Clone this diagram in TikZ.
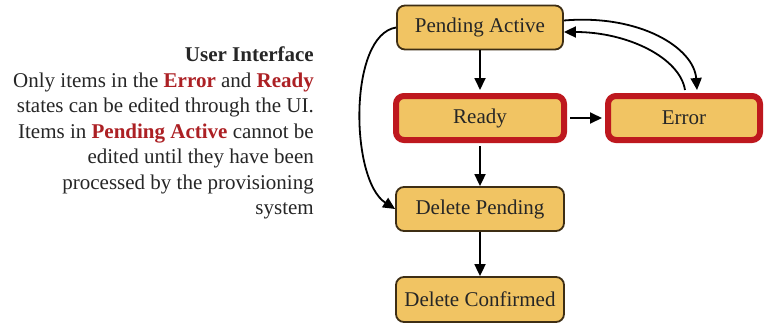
\documentclass[tikz,border=0pt]{standalone}
\usepackage{fontspec}
\setmainfont{Liberation Serif}
\usetikzlibrary{arrows.meta}
\definecolor{statefill}{RGB}{241,196,99}
\definecolor{stateline}{RGB}{62,46,20}
\definecolor{editred}{RGB}{190,24,30}
\definecolor{notered}{RGB}{172,32,36}
\tikzset{
  state/.style={draw=stateline, line width=1.8pt, fill=statefill,
    rounded corners=8pt, inner sep=0pt,
    font=\fontsize{21}{25}\selectfont, text=black!85},
  editable/.style={state, draw=editred, line width=6pt},
  arr/.style={line width=1.8pt, -{Triangle[length=12pt,width=11pt]}},
  note/.style={align=right, inner sep=0pt, text=black!85,
    font=\fontsize{21}{25.5}\selectfont},
}
\begin{document}
\begin{tikzpicture}[x=1pt,y=-1pt]
\useasboundingbox (0,0) rectangle (767,324);

% states
\node[state, minimum width=166pt, minimum height=44pt] (pa) at (480,27.5) {Pending Active};
\node[editable, minimum width=168pt, minimum height=44pt] (ready) at (480,118) {Ready};
\node[editable, minimum width=152pt, minimum height=44pt] (err) at (684,118) {Error};
\node[state, minimum width=168pt, minimum height=44pt] (dp) at (480,209) {Delete Pending};
\node[state, minimum width=168pt, minimum height=45pt] (dc) at (480,299.5) {Delete Confirmed};

% transitions
\draw[arr] (pa.south) -- ([yshift=3pt]ready.north);
\draw[arr] ([yshift=-3pt]ready.south) -- (dp.north);
\draw[arr] (dp.south) -- (dc.north);
\draw[arr] ([xshift=3pt]ready.east) -- ([xshift=-3pt]err.west);
\draw[arr] ([yshift=7pt]pa.east) .. controls (640,14) and (694,48) .. ([xshift=13pt,yshift=3pt]err.north);
\draw[arr] ([xshift=1pt,yshift=3pt]err.north) .. controls (680,58) and (628,32) .. ([yshift=-4.5pt]pa.east);
\draw[arr] (pa.west) .. controls (348,35) and (350,180) .. (dp.west);

% explanatory note
\node[note, anchor=north east] (ui) at (314,47) {\textbf{User Interface}\\
Only items in the \textcolor{notered}{\textbf{Error}} and \textcolor{notered}{\textbf{Ready}}\\
states can be edited through the UI.\\
Items in \textcolor{notered}{\textbf{Pending Active}} cannot be\\
edited until they have been\\
processed by the provisioning\\
system};
\end{tikzpicture}
\end{document}
